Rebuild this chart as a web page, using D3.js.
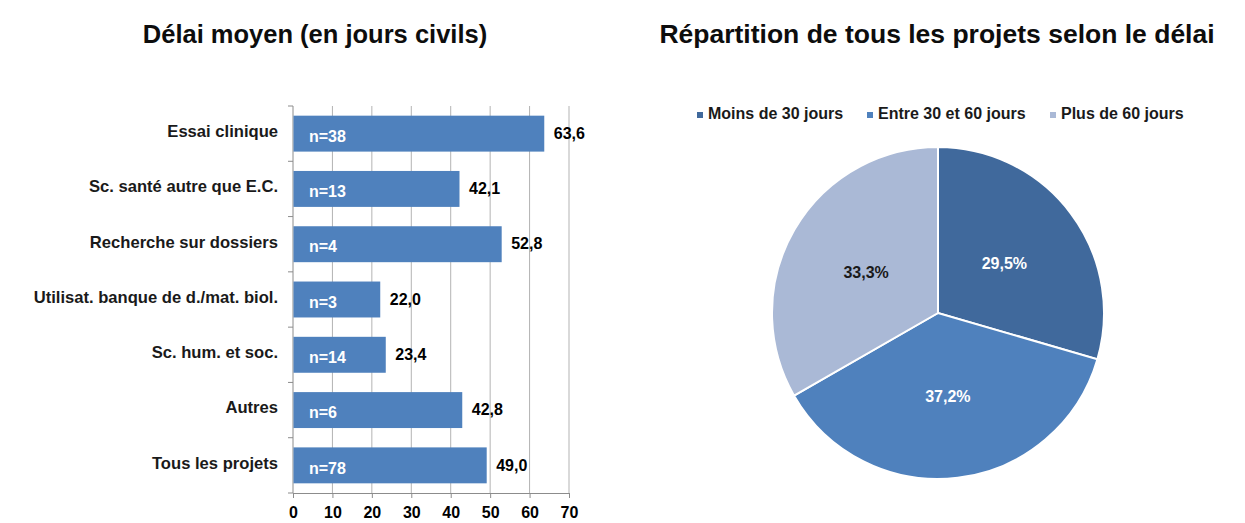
<!DOCTYPE html>
<html>
<head>
<meta charset="utf-8">
<script src="https://cdn.jsdelivr.net/npm/d3@7/dist/d3.min.js"></script>
<style>
  body { margin: 0; background: #fff; }
  text { font-family: "Liberation Sans", Arial, sans-serif; font-weight: bold; }
</style>
</head>
<body>
<script>
const categories = ["Essai clinique", "Sc. santé autre que E.C.", "Recherche sur dossiers",
  "Utilisat. banque de d./mat. biol.", "Sc. hum. et soc.", "Autres", "Tous les projets"];
const delays = [63.6, 42.1, 52.8, 22.0, 23.4, 42.8, 49.0];
const counts = [38, 13, 4, 3, 14, 6, 78];
const xTicks = [0, 10, 20, 30, 40, 50, 60, 70];

const pieLabels = ["Moins de 30 jours", "Entre 30 et 60 jours", "Plus de 60 jours"];
const pieValues = [29.5, 37.2, 33.3];
const pieColors = ["#40699C", "#4F81BD", "#AAB9D6"];
const pieTextColors = ["#fff", "#fff", "#1a1a1a"];

const fmt = v => v.toFixed(1).replace(".", ",");

const svg = d3.select("body").append("svg").attr("width", 1245).attr("height", 523);

// ---- bar chart
svg.append("text").attr("x", 315).attr("y", 43).attr("text-anchor", "middle")
  .style("font-size", "25.5px").attr("fill", "#0d0d0d").text("Délai moyen (en jours civils)");

const x = d3.scaleLinear().domain([0, 70]).range([293, 569]);
const y = d3.scaleBand().domain(categories).range([106, 493]).paddingInner(0.35).paddingOuter(0.175);

const bar = svg.append("g");
bar.selectAll("line.grid").data(xTicks.slice(1)).join("line")
  .attr("x1", d => x(d)).attr("x2", d => x(d)).attr("y1", 106).attr("y2", 493)
  .attr("stroke", "#b3b3b3").attr("stroke-width", 1);

bar.append("g").attr("transform", "translate(0,493)")
  .call(d3.axisBottom(x).tickValues(xTicks).tickSize(5).tickPadding(9))
  .call(g => g.select(".domain").attr("stroke", "#8c8c8c"))
  .call(g => g.selectAll(".tick line").attr("stroke", "#8c8c8c"))
  .call(g => g.selectAll("text").attr("fill", "#000").style("font-size", "16px")
    .style("font-family", "Liberation Sans, Arial, sans-serif").style("font-weight", "bold"));

// left axis with ticks at band boundaries
const bounds = d3.range(categories.length + 1).map(i => 106 + i * (387 / categories.length));
bar.append("line").attr("x1", 293).attr("x2", 293).attr("y1", 106).attr("y2", 493).attr("stroke", "#8c8c8c");
bar.selectAll("line.yt").data(bounds).join("line")
  .attr("x1", 288).attr("x2", 293).attr("y1", d => d).attr("y2", d => d).attr("stroke", "#8c8c8c");

bar.selectAll("rect").data(delays).join("rect")
  .attr("x", x(0) + 0.5).attr("y", (d, i) => y(categories[i]))
  .attr("width", d => x(d) - x(0)).attr("height", y.bandwidth())
  .attr("fill", "#4F81BD");

bar.selectAll("text.cat").data(categories).join("text")
  .attr("x", 278).attr("y", d => y(d) + y.bandwidth() / 2 - 1)
  .attr("text-anchor", "end").attr("dominant-baseline", "middle")
  .style("font-size", "16.6px").attr("fill", "#1a1a1a").text(d => d);

bar.selectAll("text.n").data(counts).join("text")
  .attr("x", x(0) + 16).attr("y", (d, i) => y(categories[i]) + y.bandwidth() / 2 + 4)
  .attr("dominant-baseline", "middle").style("font-size", "16px").attr("fill", "#fff")
  .text(d => "n=" + d);

bar.selectAll("text.val").data(delays).join("text")
  .attr("x", d => x(d) + 10).attr("y", (d, i) => y(categories[i]) + y.bandwidth() / 2 + 1)
  .attr("dominant-baseline", "middle").style("font-size", "16px").attr("fill", "#000")
  .text(d => fmt(d));

// ---- pie chart
svg.append("text").attr("x", 937).attr("y", 43).attr("text-anchor", "middle")
  .style("font-size", "26.5px").attr("fill", "#0d0d0d").text("Répartition de tous les projets selon le délai");

const legendX = [697, 867, 1050];
const legend = svg.append("g");
pieLabels.forEach((lab, i) => {
  legend.append("rect").attr("x", legendX[i]).attr("y", 112).attr("width", 6).attr("height", 6).attr("fill", pieColors[i]);
  legend.append("text").attr("x", legendX[i] + 11).attr("y", 115).attr("dominant-baseline", "middle")
    .style("font-size", "16px").attr("fill", "#1a1a1a").text(lab);
});

const cx = 938, cy = 313, r = 166;
const pie = d3.pie().sort(null).value(d => d)(pieValues);
const arc = d3.arc().innerRadius(0).outerRadius(r);
const labelArc = d3.arc().innerRadius(r * 0.5).outerRadius(r * 0.5);
const pg = svg.append("g").attr("transform", `translate(${cx},${cy})`);
pg.selectAll("path").data(pie).join("path")
  .attr("d", arc).attr("fill", (d, i) => pieColors[i]).attr("stroke", "#fff").attr("stroke-width", 2);
pg.selectAll("text").data(pie).join("text")
  .attr("transform", d => `translate(${labelArc.centroid(d)})`)
  .attr("dy", 2)
  .attr("text-anchor", "middle").attr("dominant-baseline", "middle")
  .style("font-size", "16px").attr("fill", (d, i) => pieTextColors[i])
  .text(d => fmt(d.data) + "%");
</script>
</body>
</html>
